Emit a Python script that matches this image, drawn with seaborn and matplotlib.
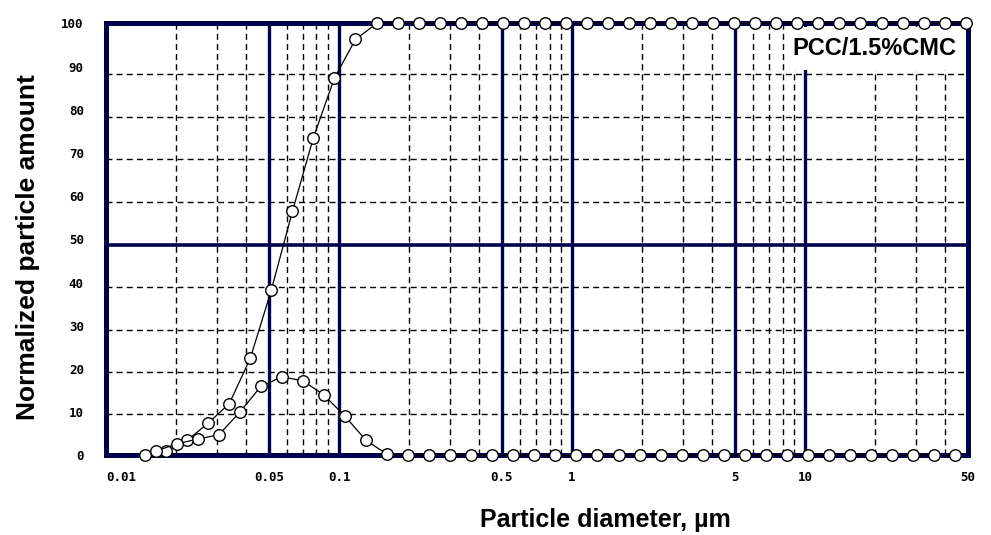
import matplotlib
matplotlib.use("Agg")
import matplotlib.pyplot as plt
import seaborn as sns
import pandas as pd
from matplotlib.patches import Rectangle
from matplotlib.ticker import NullLocator

# ---------------- data ----------------
cum_x = [0.01471, 0.01811, 0.02229, 0.02745, 0.03379, 0.04160, 0.05121, 0.06305,
         0.07762, 0.09555, 0.1176, 0.1448, 0.1783, 0.2195, 0.2702, 0.3327,
         0.4095, 0.5042, 0.6207, 0.7641, 0.9407, 1.158, 1.426, 1.755,
         2.161, 2.660, 3.275, 4.032, 4.964, 6.111, 7.523, 9.262,
         11.40, 14.04, 17.28, 21.27, 26.19, 32.24, 39.70, 48.87]
cum_y = [0.0, 1.0, 3.5, 7.5, 12.0, 22.5, 38.3, 56.5,
         73.6, 87.4, 96.3, 100, 100, 100, 100, 100,
         100, 100, 100, 100, 100, 100, 100, 100,
         100, 100, 100, 100, 100, 100, 100, 100,
         100, 100, 100, 100, 100, 100, 100, 100]

freq_x = [0.01632, 0.02009, 0.02474, 0.03046, 0.03749, 0.04616, 0.05683, 0.06996,
          0.08612, 0.1060, 0.1305, 0.1607, 0.1978, 0.2436, 0.2999, 0.3691,
          0.4545, 0.5595, 0.6888, 0.8480, 1.044, 1.285, 1.582, 1.948,
          2.398, 2.952, 3.635, 4.474, 5.509, 6.782, 8.349, 10.28,
          12.65, 15.58, 19.18, 23.61, 29.07, 35.78, 44.05]
freq_y = [1.0, 2.7, 3.8, 4.8, 10.0, 16.0, 18.2, 17.3,
          14.0, 9.1, 3.5, 0.3, 0, 0, 0, 0,
          0, 0, 0, 0, 0, 0, 0, 0,
          0, 0, 0, 0, 0, 0, 0, 0,
          0, 0, 0, 0, 0, 0, 0]

x_ticks = [0.01, 0.05, 0.1, 0.5, 1, 5, 10, 50]
x_tick_labels = ["0.01", "0.05", "0.1", "0.5", "1", "5", "10", "50"]
y_ticks = [0, 10, 20, 30, 40, 50, 60, 70, 80, 90, 100]
y_tick_labels = ["0", "10", "20", "30", "40", "50", "60", "70", "80", "90", "100"]

x_grid_solid = [0.05, 0.1, 0.5, 1, 5, 10]
x_grid_dashed = [0.02, 0.03, 0.04, 0.06, 0.07, 0.08, 0.09,
                 0.2, 0.3, 0.4, 0.6, 0.7, 0.8, 0.9,
                 2, 3, 4, 6, 7, 8, 9, 20, 30, 40]
y_grid_solid = [48.7]
y_grid_dashed = [9.6, 19.3, 29.1, 39.0, 58.7, 68.7, 78.4, 88.3]

label_text = "PCC/1.5%CMC"

# ---------------- style ----------------
sns.set_style("white")
plt.rcParams["font.family"] = ["Liberation Sans", "DejaVu Sans"]
plt.rcParams["text.color"] = "black"
plt.rcParams["axes.labelcolor"] = "black"
plt.rcParams["xtick.color"] = "black"
plt.rcParams["ytick.color"] = "black"
navy = "#00004d"

fig = plt.figure(figsize=(9.91, 5.35), dpi=100)
ax = fig.add_axes([0.107, 0.1486, 0.8698, 0.8075])
ax.set_xscale("log")

dash = (0, (4.3, 3.0))
for v in x_grid_dashed:
    ax.axvline(v, color="black", lw=1.0, ls=dash, zorder=1)
for v in y_grid_dashed:
    ax.axhline(v, color="black", lw=1.0, ls=dash, zorder=1)
for v in x_grid_solid:
    ax.axvline(v, color=navy, lw=2.4, zorder=1.5)
for v in y_grid_solid:
    ax.axhline(v, color=navy, lw=2.6, zorder=1.5)

# white box behind the sample label
ax.add_patch(Rectangle((0.792, 0.892), 0.21, 0.10, transform=ax.transAxes,
                       facecolor="white", edgecolor="none", zorder=2))
ax.text(0.891, 0.943, label_text, transform=ax.transAxes, ha="center", va="center",
        fontsize=17, fontweight="bold", color="black", zorder=3)

cum_df = pd.DataFrame({"d": cum_x, "v": cum_y})
freq_df = pd.DataFrame({"d": freq_x, "v": freq_y})
mk = dict(marker="o", markersize=8.3, markerfacecolor="white", markeredgecolor="black",
          markeredgewidth=1.0, clip_on=False, zorder=5)
sns.lineplot(data=cum_df, x="d", y="v", ax=ax, color="black", lw=0.9,
             sort=False, estimator=None, **mk)
sns.lineplot(data=freq_df, x="d", y="v", ax=ax, color="black", lw=0.9,
             sort=False, estimator=None, **mk)

ax.set_xlim(0.01, 50)
ax.set_ylim(0, 100)

for s in ax.spines.values():
    s.set_visible(True)
    s.set_color(navy)
    s.set_linewidth(3.6)
    s.set_zorder(4)

ax.set_xticks(x_ticks)
ax.set_xticklabels(x_tick_labels)
ax.xaxis.set_minor_locator(NullLocator())
ax.set_yticks(y_ticks)
ax.set_yticklabels(y_tick_labels)
ax.tick_params(axis="x", length=0, pad=11, colors="black")
ax.tick_params(axis="y", length=0, pad=16, colors="black")
for t in ax.get_xticklabels() + ax.get_yticklabels():
    t.set_fontfamily("DejaVu Sans Mono")
    t.set_fontweight("bold")
    t.set_fontsize(9)
ax.get_xticklabels()[0].set_horizontalalignment("left")

ax.set_xlabel("Particle diameter, µm", fontsize=18, fontweight="bold", color="black")
ax.xaxis.label.set_verticalalignment("center")
ax.xaxis.set_label_coords(0.579, -0.149)
ax.set_ylabel("Normalized particle amount", fontsize=19, fontweight="bold", color="black")
ax.yaxis.label.set_verticalalignment("center")
ax.yaxis.set_label_coords(-0.0905, 0.483)

fig.savefig("out.png", dpi=100, facecolor="white")
